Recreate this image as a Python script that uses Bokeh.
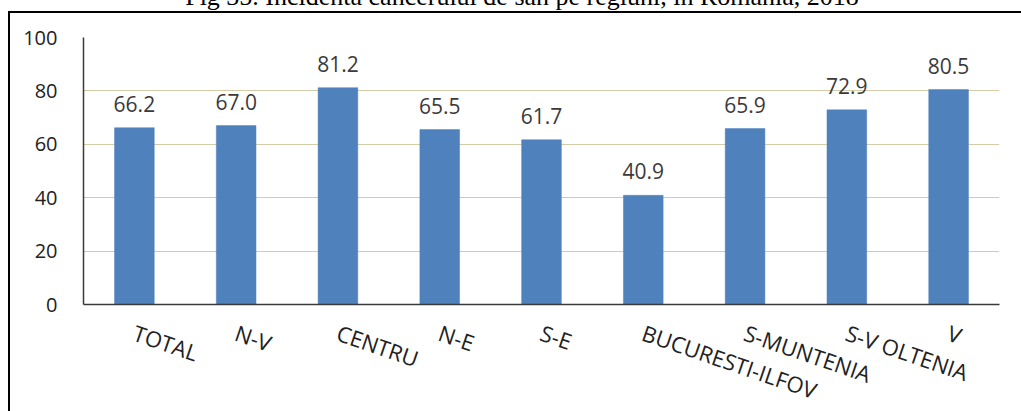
from bokeh.plotting import figure
from bokeh.models import ColumnDataSource, LabelSet, FixedTicker, Div
from bokeh.layouts import column
from bokeh.core.properties import value
from bokeh.embed import file_html
from bokeh.resources import INLINE

regions = ["TOTAL", "N-V", "CENTRU", "N-E", "S-E", "BUCURESTI-ILFOV",
           "S-MUNTENIA", "S-V OLTENIA", "V"]
incidence = [66.2, 67.0, 81.2, 65.5, 61.7, 40.9, 65.9, 72.9, 80.5]
y_ticks = [0, 20, 40, 60, 80, 100]
title_text = "Fig 35. Incidenta cancerului de san pe regiuni, in Romania, 2018"

src = ColumnDataSource(dict(region=regions, value=incidence,
                            label=[f"{v:.1f}" for v in incidence]))

p = figure(x_range=regions, y_range=(0, 100), width=1021, height=412,
           output_backend="svg", toolbar_location=None, title=None,
           min_border_left=83, min_border_right=22, min_border_top=26,
           min_border_bottom=100)
p.x_range.range_padding = 0
p.background_fill_color = "white"
p.border_fill_color = None
p.outline_line_color = None

p.vbar(x="region", top="value", width=0.39, source=src,
       fill_color="#4F81BD", line_color="#4F81BD", line_width=0.5)

labels = LabelSet(x="region", y="value", text="label", source=src,
                  text_align="center", text_baseline="alphabetic", y_offset=16,
                  text_font=value("Open Sans"), text_font_size="21px",
                  text_color="#3a3a3a")
p.add_layout(labels)

# axes
p.xgrid.grid_line_color = None
p.ygrid.grid_line_color = "#D4CCA6"
p.ygrid.grid_line_width = 1.2
p.yaxis.ticker = FixedTicker(ticks=y_ticks)
for ax in (p.xaxis[0], p.yaxis[0]):
    ax.axis_line_color = "#3a3a3a"
    ax.axis_line_width = 1.5
    ax.major_tick_line_color = None
    ax.minor_tick_line_color = None
    ax.major_tick_out = 0
    ax.major_tick_in = 0
    ax.major_label_text_font = "Open Sans"
    ax.major_label_text_color = "#222222"
p.yaxis.major_label_text_font_size = "20px"
p.yaxis.major_label_standoff = 26
p.xaxis.major_label_text_font_size = "22px"
p.xaxis.major_label_orientation = -0.33
p.xaxis.major_label_standoff = 27

# title (only its lower part is visible in the original figure)
title_div = Div(
    text=('<div style="position:relative;top:-16px;'
          'font-family:\'Liberation Serif\';font-size:26px;'
          'line-height:26px;text-align:center;white-space:nowrap;'
          'width:1044px;color:#000">' + title_text + '</div>'),
    width=1021, height=11, margin=0, styles={"overflow": "hidden"})

page = column(
    title_div, p, width=1021, height=411, spacing=0,
    styles={"overflow": "hidden",
            "background": ("linear-gradient(#000,#000) 8px 11px / 2px 400px no-repeat, "
                           "linear-gradient(#000,#000) 8px 11px / 1013px 2px no-repeat, "
                           "#ffffff")})

open("out.html", "w").write(file_html(page, INLINE))
